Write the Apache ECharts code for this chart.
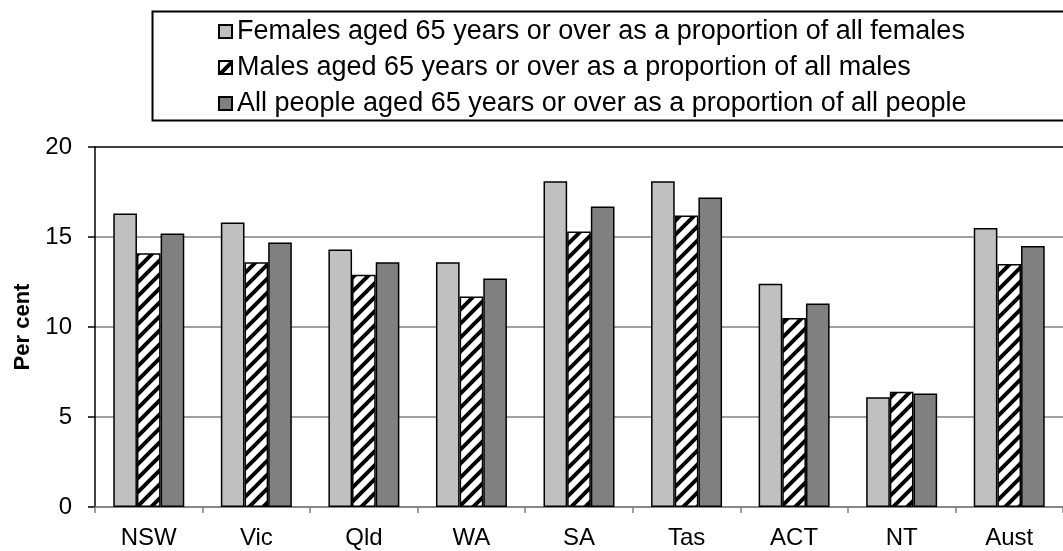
<!DOCTYPE html>
<html lang="en">
<head>
<meta charset="UTF-8">
<title>Population aged 65 years or over</title>
<style>
  html, body { margin: 0; padding: 0; background: #fff; }
  #main { width: 1063px; height: 551px; }
</style>
</head>
<body>
<div id="main"></div>
<script src="https://cdn.jsdelivr.net/npm/echarts@6/dist/echarts.min.js"></script>
<script>
// states / territories
var states = ['NSW', 'Vic', 'Qld', 'WA', 'SA', 'Tas', 'ACT', 'NT', 'Aust'];
// per cent aged 65+
var females = [16.3, 15.8, 14.3, 13.6, 18.1, 18.1, 12.4, 6.1, 15.5];
var males   = [14.1, 13.6, 12.9, 11.7, 15.3, 16.2, 10.5, 6.4, 13.5];
var persons = [15.2, 14.7, 13.6, 12.7, 16.7, 17.2, 11.3, 6.3, 14.5];
var yTicks  = [0, 5, 10, 15, 20];

var seriesNames = [
    'Females aged 65 years or over as a proportion of all females',
    'Males aged 65 years or over as a proportion of all males',
    'All people aged 65 years or over as a proportion of all people'
];

var FONT = 'Arial, "Liberation Sans", sans-serif';

// diagonal hatch for the males bars
function makeHatch() {
    var p = 14;
    var c = document.createElement('canvas');
    c.width = p; c.height = p;
    var ctx = c.getContext('2d');
    ctx.fillStyle = '#fff';
    ctx.fillRect(0, 0, p, p);
    ctx.strokeStyle = '#000';
    ctx.lineWidth = 4;
    ctx.beginPath();
    ctx.moveTo(-p / 2, p / 2); ctx.lineTo(p / 2, -p / 2);
    ctx.moveTo(0, p); ctx.lineTo(p, 0);
    ctx.moveTo(p / 2, p * 1.5); ctx.lineTo(p * 1.5, p / 2);
    ctx.stroke();
    return c;
}

var myChart = echarts.init(document.getElementById('main'));

function barSeries(name, data, color) {
    return {
        name: name,
        type: 'bar',
        data: data,
        barGap: '0%',
        barCategoryGap: '34%',
        itemStyle: { color: color, borderColor: '#000', borderWidth: 1.5 },
        emphasis: { disabled: true }
    };
}

var option = {
    backgroundColor: '#fff',
    animation: false,
    textStyle: { fontFamily: FONT },
    graphic: [{
        type: 'rect',
        left: 150, top: 9,
        shape: { width: 950, height: 109 },
        style: { fill: 'none', stroke: '#000', lineWidth: 2 },
        z: 0
    }],
    legend: {
        orient: 'vertical',
        left: 213, top: 13,
        itemWidth: 13, itemHeight: 13,
        itemGap: 9,
        icon: 'rect',
        selectedMode: false,
        textStyle: { fontSize: 27, color: '#000', fontFamily: FONT },
        data: seriesNames
    },
    grid: { left: 95, top: 147, right: -12, bottom: 44, containLabel: false },
    xAxis: {
        type: 'category',
        data: states,
        axisLine: { lineStyle: { color: '#808080', width: 1.5 } },
        axisTick: { show: true, length: 6, lineStyle: { color: '#808080', width: 1.5 } },
        axisLabel: { color: '#000', fontSize: 24, fontFamily: FONT, margin: 19 }
    },
    yAxis: {
        type: 'value',
        min: yTicks[0], max: yTicks[yTicks.length - 1], interval: 5,
        name: 'Per cent',
        nameLocation: 'middle',
        nameGap: 61,
        nameTextStyle: { fontSize: 22, fontWeight: 'bold', color: '#000', fontFamily: FONT },
        axisLine: { show: true, lineStyle: { color: '#000', width: 1.5 } },
        axisTick: { show: true, length: 7, lineStyle: { color: '#000', width: 1.5 } },
        axisLabel: { color: '#000', fontSize: 24, fontFamily: FONT, margin: 23 },
        splitLine: {
            show: true,
            showMinLine: true,
            showMaxLine: true,
            lineStyle: { color: ['#808080', '#808080', '#808080', '#808080', '#000'], width: 1.5 }
        }
    },
    series: [
        barSeries(seriesNames[0], females, '#C0C0C0'),
        barSeries(seriesNames[1], males, { image: makeHatch(), repeat: 'repeat' }),
        barSeries(seriesNames[2], persons, '#808080')
    ]
};

myChart.setOption(option);
</script>
</body>
</html>
